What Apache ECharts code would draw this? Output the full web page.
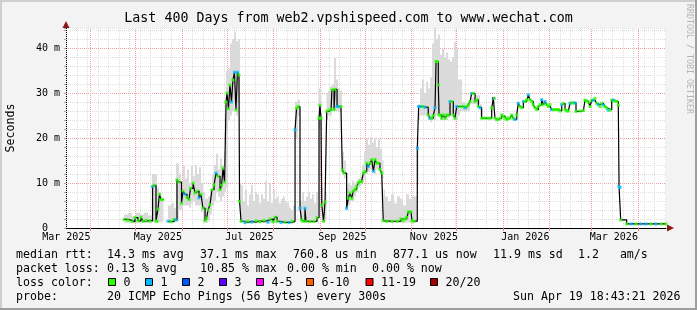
<!DOCTYPE html>
<html><head><meta charset="utf-8">
<script src="https://cdn.jsdelivr.net/npm/echarts@6/dist/echarts.min.js"></script>
<style>html,body{margin:0;padding:0;background:#f3f3f3}#c{width:697px;height:310px}</style>
</head><body><div id="c"></div><script>
// ---------- data (days since start of the 400-day window, values in ms) ----------
const dayOffset = [38.7,41.3,44.0,46.0,48.0,50.0,51.3,53.3,56.0,57.7,58.7,60.0,60.7,61.3,62.3,63.3,64.3,65.0,
68.0,70.0,72.0,73.3,74.0,75.3,77.0,78.0,79.3,80.7,82.0,83.0,84.7,86.0,87.3,88.7,90.0,91.3,92.7,93.7,94.7,96.0,97.3,98.7,100.0,101.3,102.7,103.7,104.7,105.7,
106.7,107.3,108.3,109.3,110.3,111.3,112.3,113.3,114.3,115.3,115.7,116.7,119.3,121.3,124.0,126.7,129.3,132.0,134.7,136.0,138.0,139.3,140.7,143.3,146.0,148.7,150.7,
152.7,153.7,154.7,156.0,157.0,158.0,159.3,160.0,162.7,165.3,167.3,168.7,169.3,170.0,170.5,171.7,172.7,173.8,175.3,176.7,177.3,178.7,179.3,180.7,182.0,183.3,
184.2,185.3,187.1,188.2,189.3,190.5,191.5,192.7,193.8,194.9,196.0,197.1,198.2,199.3,200.5,201.5,202.7,203.8,204.9,206.0,207.1,208.2,209.3,210.5,
211.5,214.0,217.3,220.7,223.3,224.7,226.0,227.1,228.2,230.0,230.7,232.0,234.2,235.1,236.0,238.0,239.3,241.5,242.7,243.8,244.9,246.0,246.7,247.5,248.2,248.7,
249.3,250.5,251.5,252.7,253.8,254.9,256.0,257.1,258.2,259.3,260.5,262.7,264.9,266.0,267.1,268.2,269.3,270.5,271.5,272.7,273.8,274.9,276.0,277.1,279.3,281.5,
282.7,283.8,284.9,285.5,286.0,287.1,288.2,289.3,290.5,291.5,292.7,293.8,294.9,296.0,297.1,298.2,299.3,300.5,301.5,302.7,303.8,304.9,306.0,307.1,308.2,309.3,
310.5,311.5,312.7,313.8,314.9,316.0,317.1,318.2,319.3,320.5,321.5,322.7,323.8,324.9,326.0,327.1,328.2,329.3,330.5,331.5,332.7,333.8,334.9,336.0,337.1,338.2,
339.3,340.0,342.7,344.9,346.0,347.1,348.2,349.3,350.5,351.5,352.7,353.8,354.9,356.0,357.1,358.2,359.3,360.5,361.5,362.7,363.8,364.9,366.0,367.1,368.2,368.7,
369.3,369.8,373.8,376.7,380.0,383.3,386.7,390.0,393.3,396.7,400.0];
const medianMs = [1.9,1.7,1.4,2.3,1.6,2.4,1.5,1.7,1.6,9.2,9.5,1.5,1.5,4.2,7.5,6.3,6.3,null,
1.5,1.4,1.9,1.8,10.7,10.2,5.5,8.2,7.5,6.8,6.3,8.8,10.0,7.8,8.2,6.7,7.5,4.4,1.6,2.2,4.0,5.2,8.5,9.6,12.2,11.5,8.5,9.5,13.3,10.2,
28.0,30.0,26.5,31.8,28.0,32.9,34.6,26.2,34.6,34.0,5.9,1.5,1.2,1.5,1.3,1.6,1.4,1.7,1.3,2.0,1.4,2.4,1.5,1.2,1.3,1.2,1.5,
21.8,26.6,27.0,4.4,1.8,1.5,4.4,1.5,1.4,1.5,2.3,24.4,27.3,24.4,5.1,1.5,5.8,25.9,26.2,26.4,30.7,26.3,30.8,27.0,27.0,27.0,
12.9,12.2,4.4,6.6,7.8,6.6,8.2,8.6,9.2,10.0,10.4,10.3,12.2,12.6,14.4,13.7,14.4,15.2,12.6,15.2,14.4,14.4,13.0,12.2,
1.6,1.5,1.5,1.5,2.0,1.6,2.0,2.4,3.6,3.6,1.6,1.5,17.7,27.0,27.0,27.0,26.8,25.1,24.4,24.4,25.0,26.7,37.0,37.0,31.8,25.1,
25.1,24.4,25.1,24.4,25.1,25.1,28.1,28.1,25.1,24.4,27.0,27.0,27.0,26.7,27.0,27.4,28.1,29.9,29.9,28.1,28.5,27.0,26.7,24.4,24.4,24.4,
24.4,26.7,28.8,28.8,24.4,24.1,24.1,24.4,25.1,24.8,24.4,24.1,24.4,24.4,25.1,24.4,24.1,25.1,27.7,27.0,26.7,28.1,28.1,28.5,29.6,28.5,
28.1,27.4,26.7,26.3,27.0,27.4,28.5,27.4,28.1,27.4,27.0,27.4,26.3,26.3,26.3,26.3,26.3,26.0,27.4,27.7,26.3,26.0,26.0,27.7,27.8,27.8,
27.8,25.9,26.0,26.1,28.4,28.2,28.0,27.0,28.4,28.4,28.8,27.7,27.4,27.0,27.7,27.3,27.0,26.6,26.2,26.2,28.4,28.4,28.1,28.1,27.3,9.2,
9.0,1.8,0.9,0.9,0.9,0.9,0.9,0.9,0.9,0.9,0.9];
const lossBucket = [0,0,0,0,0,0,0,0,0,1,0,0,0,0,0,0,0,null,
1,0,0,1,0,0,0,0,1,0,0,0,0,0,0,1,0,0,0,0,0,0,0,0,1,0,0,0,0,0,
0,0,0,0,1,0,1,0,1,0,0,0,1,0,1,0,0,0,1,0,0,0,0,1,0,1,0,
1,0,0,1,0,0,1,0,0,0,0,0,0,0,0,0,0,0,0,0,0,0,0,1,1,0,
0,0,1,0,0,0,0,0,0,0,0,0,0,0,0,1,0,0,1,0,0,0,0,0,
0,0,0,0,0,0,0,0,0,0,0,0,1,1,1,0,1,0,1,0,0,1,0,0,0,0,
0,0,0,0,0,0,1,0,0,0,1,0,0,1,0,0,0,1,0,0,0,0,1,0,0,0,
0,0,3,0,0,0,0,0,0,0,0,0,0,0,0,0,1,0,1,0,0,1,0,0,1,0,
0,0,0,0,0,0,1,0,1,0,0,0,1,0,0,0,0,0,1,0,0,0,0,1,0,0,
1,0,0,0,0,0,0,0,0,1,0,0,1,0,0,1,0,0,1,0,0,1,0,0,0,1,
1,0,0,1,0,1,1,0,1,0,0];
const smokeDay = [38.7,41.3,44.0,46.7,49.3,52.0,54.7,57.3,60.7,62.0,63.3,64.3,65.0,
68.0,70.0,72.0,73.3,75.3,76.7,78.0,79.3,80.7,82.0,83.3,84.7,86.0,87.3,88.7,90.0,91.3,92.7,94.7,96.0,97.3,98.7,100.0,101.3,102.7,104.0,105.3,
106.7,108.0,109.3,110.7,112.0,113.3,114.7,116.0,116.7,118.0,119.3,120.7,122.0,123.3,124.7,126.0,127.3,128.7,130.0,131.3,132.7,134.0,135.3,136.7,138.0,
139.3,140.7,142.0,143.3,144.7,146.0,147.3,148.7,150.0,151.3,152.7,154.7,156.0,157.3,158.7,160.0,161.3,162.7,164.0,165.3,166.7,168.3,170.3,171.3,172.7,
173.7,174.7,176.0,177.3,178.7,180.0,181.3,182.7,184.0,185.3,186.7,188.0,189.3,190.7,192.0,193.3,194.7,196.0,197.3,198.7,200.0,201.3,202.7,204.0,205.3,
206.7,208.0,209.3,210.7,211.7,212.7,214.7,216.7,218.7,220.7,222.7,224.7,226.7,228.7,230.7,232.7,234.0,235.0,236.0,237.3,238.7,240.0,241.3,242.7,244.0,
245.3,246.7,248.0,249.3,250.7,252.0,253.3,254.7,256.0,257.3,258.7,260.0,261.3,262.7,264.0,266.0,269.3,272.7,276.0,277.3];
const smokeLo = [1.2,1.2,1.1,1.2,1.2,1.1,1.1,1.3,1.2,1.3,1.3,1.3,null,
1.2,1.2,1.2,1.5,4.0,4.0,5.0,5.0,5.0,4.5,5.5,6.0,5.0,5.0,5.0,3.5,1.5,1.2,1.5,3.0,5.0,6.0,8.0,7.0,6.0,7.0,8.0,
9.0,24.0,25.0,26.0,28.0,25.0,28.0,1.2,1.2,1.2,1.1,1.1,1.1,1.1,1.1,1.1,1.1,1.1,1.1,1.1,1.1,1.1,1.1,1.1,1.1,
1.1,1.1,1.1,1.1,1.1,1.1,1.1,1.1,1.1,1.1,20.0,25.0,1.3,1.2,1.2,1.2,1.2,1.2,1.2,1.2,1.2,22.0,1.3,1.2,1.5,
24.0,25.0,25.0,26.0,26.0,26.0,26.0,26.0,12.0,11.0,4.0,5.0,6.0,6.0,7.0,8.0,9.0,9.5,10.0,11.0,12.0,12.5,13.0,13.0,12.0,
13.0,13.0,12.0,11.0,1.3,1.2,1.2,1.2,1.2,1.2,1.2,1.2,1.2,1.2,1.2,1.2,10.0,24.0,25.0,25.0,25.0,25.0,24.0,23.5,24.0,
24.0,25.0,25.0,24.0,24.0,24.0,24.0,24.5,25.0,25.0,24.0,24.0,25.0,26.0,26.0,26.0,27.5,27.5,25.0,null];
const smokeHi = [3.0,3.3,2.6,3.4,3.0,3.4,2.8,12.0,9.0,8.0,7.0,7.0,null,
5.0,5.5,4.5,14.4,12.0,9.0,14.0,11.0,13.0,10.0,13.8,11.5,14.0,12.0,13.5,10.0,8.0,6.5,7.0,8.5,12.0,14.0,16.5,13.0,15.5,14.0,16.8,
35.0,35.5,41.0,42.0,43.5,41.5,42.0,10.0,9.5,6.0,8.5,5.0,7.5,9.5,6.0,8.0,7.5,5.5,7.5,6.5,10.5,6.0,10.0,5.5,8.5,
6.5,7.0,5.5,6.5,7.0,6.0,5.5,4.5,4.0,5.0,28.0,28.5,6.0,8.0,6.0,7.0,8.0,6.5,7.5,5.5,8.0,31.0,9.0,6.0,8.0,
30.0,30.5,31.5,32.0,37.8,33.0,31.0,30.5,17.0,15.0,9.0,10.0,9.5,10.5,10.0,10.5,11.0,11.5,14.0,17.0,20.0,18.5,20.2,19.0,20.0,
18.0,20.0,17.5,15.0,8.5,7.0,6.0,7.5,5.5,7.0,6.5,5.0,7.5,6.5,7.0,7.0,20.0,27.5,31.0,33.0,30.0,32.5,31.0,33.5,41.0,
44.4,42.0,43.0,38.5,40.0,38.0,39.0,37.5,37.0,38.0,41.3,40.0,33.0,33.0,28.0,27.5,29.0,29.5,27.5,null];
const xLabelText = ['Mar 2025','May 2025','Jul 2025','Sep 2025','Nov 2025','Jan 2026','Mar 2026'];
const xLabelMonth = [[2025,2],[2025,4],[2025,6],[2025,8],[2025,10],[2026,0],[2026,2]];
const yLabelStep = 10;
const lossNames = ['0','1','2','3','4-5','6-10','11-19','20/20'];
const lossColors = ['#26ff00','#00b8ff','#0059ff','#5e00ff','#ff00fe','#ff5e00','#ff0000','#a10000'];

// ---------- time helpers ----------
const DAY = 86400000;
const startMs = Date.UTC(2025,2,15,18,43,21);
const spanDays = 400;
const off = t => (t - startMs) / DAY;
const labelDays = xLabelMonth.map(([y,m]) => off(Date.UTC(y,m,16)));
const monthStarts = [];
for (let y=2025,m=3; ; m++) { if (m>11){m=0;y++;} const d=off(Date.UTC(y,m,1)); if (d>spanDays) break; monthStarts.push(d); }
const weekLines = [];
for (let d=off(Date.UTC(2025,2,16)); d<spanDays; d+=7) weekLines.push(d);

const MONO = "'DejaVu Sans Mono', monospace";
const chart = echarts.init(document.getElementById('c'), null, {renderer:'canvas'});

const lineData = dayOffset.map((d,i)=>[d, medianMs[i]==null?'-':medianMs[i]]);
const dotData = [];
dayOffset.forEach((d,i)=>{ if (medianMs[i]!=null) dotData.push({value:[d,medianMs[i]], itemStyle:{color:lossColors[lossBucket[i]]}}); });
const smokeData = [];
smokeDay.forEach((d,i)=>{ if (smokeLo[i]!=null && i+1<smokeDay.length) smokeData.push([d, smokeLo[i], smokeHi[i], smokeDay[i+1]]); });

// legend graphics
const gfx = [];
const txt = (x,y,s,opt) => gfx.push(Object.assign({type:'text', x, y, style:{text:s, font:'11.6px '+MONO, fill:'#000', textVerticalAlign:'middle', textAlign:'left'}}, opt||{}));
const rows = [
  [[16,'median rtt:'],[107,'14.3 ms avg'],[200,'37.1 ms max'],[293,'760.8 us min'],[393,'877.1 us now'],[493,'11.9 ms sd'],[578,'1.2   am/s']],
  [[16,'packet loss:'],[107,'0.13 % avg'],[200,'10.85 % max'],[287,'0.00 % min'],[372,'0.00 % now']],
  [[16,'loss color:']],
  [[16,'probe:'],[107,'20 ICMP Echo Pings (56 Bytes) every 300s'],[513,'Sun Apr 19 18:43:21 2026']]
];
const rowY = [254.5,268.5,282.5,296.5];
rows.forEach((r,ri)=> r.forEach(([x,s])=> txt(x,rowY[ri],s)));
const boxX = [108.5,145.5,182.5,219.5,256.5,306.5,366,430.5];
boxX.forEach((x,i)=>{
  gfx.push({type:'rect', shape:{x:x, y:278.5, width:7, height:7}, style:{fill:lossColors[i], stroke:'#000', lineWidth:1}});
  txt(x+15, rowY[2], lossNames[i]);
});
gfx.push({type:'text', x:348.5, y:19, style:{text:'Last 400 Days from web2.vpshispeed.com to www.wechat.com', font:'13.3px '+MONO, fill:'#000', textAlign:'center', textVerticalAlign:'middle'}});
gfx.push({type:'text', x:11, y:128, rotation:Math.PI/2, style:{text:'Seconds', font:'11.6px '+MONO, fill:'#000', textAlign:'center', textVerticalAlign:'middle'}});
gfx.push({type:'text', x:689, y:4, rotation:-Math.PI/2, style:{text:'RRDTOOL / TOBI OETIKER', font:'8.3px '+MONO, fill:'#b4b4b4', textAlign:'left', textVerticalAlign:'middle'}});
gfx.push({type:'polygon', shape:{points:[[66,21],[62.5,28],[69.5,28]]}, style:{fill:'#8b1a1a'}});
gfx.push({type:'polygon', shape:{points:[[674,228],[667,224.5],[667,231.5]]}, style:{fill:'#8b1a1a'}});
gfx.push({type:'rect', shape:{x:0,y:0,width:697,height:2}, style:{fill:'#cfcfcf'}});
gfx.push({type:'rect', shape:{x:0,y:0,width:2,height:310}, style:{fill:'#cfcfcf'}});
gfx.push({type:'rect', shape:{x:695,y:0,width:2,height:310}, style:{fill:'#9e9e9e'}});
gfx.push({type:'rect', shape:{x:0,y:308,width:697,height:2}, style:{fill:'#9e9e9e'}});

const nearest = (arr,v) => { let bi=0,bd=1e9; arr.forEach((a,i)=>{const dd=Math.abs(a-v); if(dd<bd){bd=dd;bi=i;}}); return bi; };

chart.setOption({
  animation:false,
  backgroundColor:'#f3f3f3',
  grid:{left:66, top:28, width:600, height:200, show:true, backgroundColor:'#ffffff', borderWidth:0},
  xAxis:{type:'value', min:0, max:spanDays,
    axisLine:{show:true, lineStyle:{color:'#000', width:1}},
    axisTick:{show:true, customValues:monthStarts, length:3, lineStyle:{color:'#f08080'}},
    axisLabel:{customValues:labelDays, formatter:v=>xLabelText[nearest(labelDays,v)], fontFamily:MONO, fontSize:10, color:'#000', margin:4},
    splitLine:{show:false}},
  yAxis:{type:'value', min:0, max:44.44, interval:2,
    axisLine:{show:true, lineStyle:{color:'#000', width:1}},
    axisTick:{show:true, length:2, lineStyle:{color:'#aaa'}},
    axisLabel:{formatter:v=> (Math.abs(v % yLabelStep) < 1e-6 && v < 44) ? (v===0 ? '0  ' : v+' m') : '', fontFamily:MONO, fontSize:10, color:'#000', margin:6},
    splitLine:{show:true, lineStyle:{color:['#f0a0a0','#dddddd','#dddddd','#dddddd','#dddddd'], type:[1,1], width:1}}},
  graphic:gfx,
  series:[
    {type:'line', data:[], z:1, silent:true,
      markLine:{silent:true, z:1, symbol:['none','none'], label:{show:false}, animation:false,
        data: weekLines.map(d=>({xAxis:d, lineStyle:{color:'#dddddd', type:[1,1], width:1}})).concat(
              monthStarts.map(d=>({xAxis:d, lineStyle:{color:'#f0a0a0', type:[1,1], width:1}})))}},
    {type:'custom', data:smokeData, z:2, silent:true, encode:{x:[0,3], y:[1,2]},
      renderItem:(params, api)=>{
        const a = api.coord([api.value(0), api.value(2)]);
        const b = api.coord([api.value(3), api.value(1)]);
        return {type:'rect', shape:{x:a[0], y:a[1], width:b[0]-a[0], height:b[1]-a[1]}, style:{fill:'#dadada'}};
      }},
    {type:'line', data:lineData, step:'end', showSymbol:false, z:3, silent:true, connectNulls:false, lineStyle:{color:'#000', width:1.2}},
    {type:'scatter', data:dotData, symbol:'rect', symbolSize:[3,3], z:4, silent:true}
  ]
});
</script></body></html>
